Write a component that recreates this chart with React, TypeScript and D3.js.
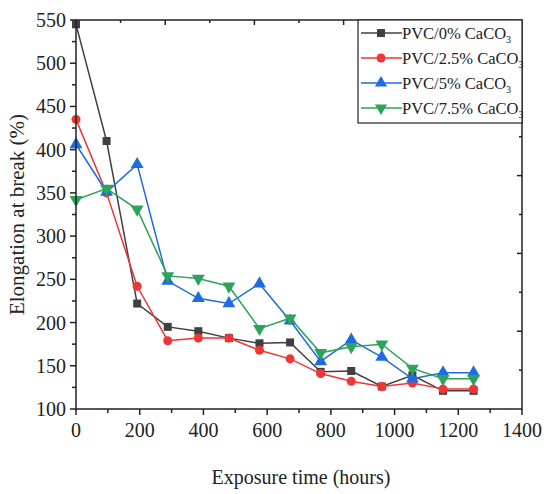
import React, { useEffect, useRef } from "react";
import * as d3 from "d3";

const times = [0, 96, 192, 288, 384, 480, 576, 672, 768, 864, 960, 1056, 1152, 1248];
const pvc0 = [545, 410, 222, 195, 190, 182, 176, 177, 143, 144, 126, 139, 121, 121];
const pvc25 = [435, 350, 242, 179, 182, 182, 168, 158, 141, 132, 126, 130, 123, 123];
const pvc5 = [406, 351, 383, 248, 228, 222, 245, 202, 155, 180, 160, 135, 142, 142];
const pvc75 = [342, 355, 331, 254, 251, 242, 193, 205, 165, 172, 175, 147, 135, 135];
const seriesNames = ["PVC/0% CaCO", "PVC/2.5% CaCO", "PVC/5% CaCO", "PVC/7.5% CaCO"];
const seriesColors = ["#404040", "#ef3535", "#1f6be0", "#2ea35a"];
const seriesSymbols = [d3.symbolSquare, d3.symbolCircle, d3.symbolTriangle, d3.symbolTriangle];
const xTicks = [0, 200, 400, 600, 800, 1000, 1200, 1400];
const yTicks = [100, 150, 200, 250, 300, 350, 400, 450, 500, 550];
const xLabel = "Exposure time (hours)";
const yLabel = "Elongation at break (%)";

export default function App() {
  const ref = useRef<SVGSVGElement>(null);
  useEffect(() => {
    const svg = d3.select(ref.current);
    svg.selectAll("*").remove();
    const W = 550, H = 494;
    const L = 76, R = 522, T = 20, B = 409;
    const font = "'Liberation Serif', 'Times New Roman', serif";
    const x = d3.scaleLinear().domain([0, 1400]).range([L, R]);
    const y = d3.scaleLinear().domain([100, 550]).range([B, T]);
    const ink = "#222";

    svg.attr("width", W).attr("height", H);
    svg.append("rect").attr("width", W).attr("height", H).attr("fill", "#fff");

    const all = [pvc0, pvc25, pvc5, pvc75];
    const line = d3.line<number>().x((_, i) => x(times[i])).y((d) => y(d));
    all.forEach((vals, si) => {
      const g = svg.append("g");
      g.append("path").attr("d", line(vals)).attr("fill", "none")
        .attr("stroke", seriesColors[si]).attr("stroke-width", 1.5);
      const sym = d3.symbol().type(seriesSymbols[si]).size(si < 2 ? 64 : 72);
      vals.forEach((v, i) => {
        g.append("path").attr("d", sym()!)
          .attr("transform", `translate(${x(times[i])},${y(v)})${si === 3 ? " rotate(180)" : ""}`)
          .attr("fill", seriesColors[si]);
      });
    });

    svg.append("rect").attr("x", L).attr("y", T).attr("width", R - L).attr("height", B - T)
      .attr("fill", "none").attr("stroke", ink).attr("stroke-width", 1.5);

    const minorX = d3.range(100, 1400, 200);
    xTicks.forEach((t) => {
      svg.append("line").attr("x1", x(t)).attr("x2", x(t)).attr("y1", B).attr("y2", B + 6)
        .attr("stroke", ink).attr("stroke-width", 1.5);
      svg.append("text").attr("x", x(t)).attr("y", B + 28).attr("text-anchor", "middle")
        .attr("font-family", font).attr("font-size", 20).attr("fill", ink).text(String(t));
    });
    minorX.forEach((t) => {
      svg.append("line").attr("x1", x(t)).attr("x2", x(t)).attr("y1", B).attr("y2", B + 4)
        .attr("stroke", ink).attr("stroke-width", 1.5);
    });
    const minorY = d3.range(125, 550, 50);
    yTicks.forEach((t) => {
      svg.append("line").attr("x1", L - 6).attr("x2", L).attr("y1", y(t)).attr("y2", y(t))
        .attr("stroke", ink).attr("stroke-width", 1.5);
      svg.append("text").attr("x", L - 10).attr("y", y(t)).attr("dy", "0.35em").attr("text-anchor", "end")
        .attr("font-family", font).attr("font-size", 20).attr("fill", ink).text(String(t));
    });
    minorY.forEach((t) => {
      svg.append("line").attr("x1", L - 4).attr("x2", L).attr("y1", y(t)).attr("y2", y(t))
        .attr("stroke", ink).attr("stroke-width", 1.5);
    });
    for (let k = 1; k < 10; k++) {
      const fx = L + ((R - L) * k) / 10;
      const fy = B - ((B - T) * k) / 10;
      const len = k % 2 === 0 ? 5 : 3;
      svg.append("line").attr("x1", fx).attr("x2", fx).attr("y1", T).attr("y2", T + len)
        .attr("stroke", ink).attr("stroke-width", 1.5);
      svg.append("line").attr("x1", R - len).attr("x2", R).attr("y1", fy).attr("y2", fy)
        .attr("stroke", ink).attr("stroke-width", 1.5);
    }

    svg.append("text").attr("x", 301).attr("y", 484).attr("text-anchor", "middle")
      .attr("font-family", font).attr("font-size", 20).attr("fill", ink).text(xLabel);
    svg.append("text").attr("transform", `translate(24,${(T + B) / 2}) rotate(-90)`).attr("text-anchor", "middle")
      .attr("font-family", font).attr("font-size", 21).attr("fill", ink).text(yLabel);

    const lx = 358, ly = T, lw = R - lx, lh = 103;
    svg.append("rect").attr("x", lx).attr("y", ly).attr("width", lw).attr("height", lh)
      .attr("fill", "#fff").attr("stroke", ink).attr("stroke-width", 1.2);
    seriesNames.forEach((name, si) => {
      const cy = ly + 13 + si * 25;
      svg.append("line").attr("x1", lx + 3).attr("x2", lx + 44).attr("y1", cy).attr("y2", cy)
        .attr("stroke", seriesColors[si]).attr("stroke-width", 1.5);
      const sym = d3.symbol().type(seriesSymbols[si]).size(64);
      svg.append("path").attr("d", sym()!)
        .attr("transform", `translate(${lx + 23},${cy})${si === 3 ? " rotate(180)" : ""}`)
        .attr("fill", seriesColors[si]);
      const t = svg.append("text").attr("x", lx + 44).attr("y", cy).attr("dy", "0.35em")
        .attr("font-family", font).attr("font-size", 16.5).attr("fill", ink);
      t.append("tspan").text(name);
      t.append("tspan").attr("font-size", 10).attr("dy", 4).text("3");
    });
  }, []);
  return <svg ref={ref} style={{ display: "block", position: "absolute", left: 0, top: 0 }} />;
}
